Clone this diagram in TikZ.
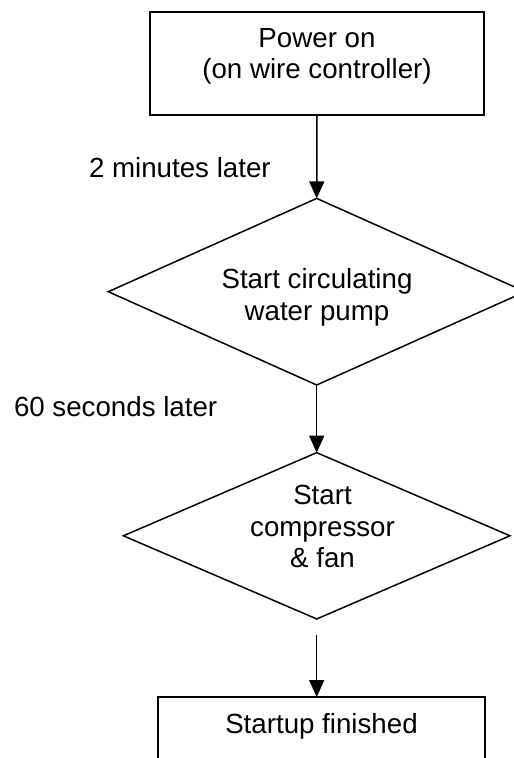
\documentclass[tikz,border=0pt]{standalone}
\usepackage{fontspec}
\setmainfont{Liberation Sans}
\usetikzlibrary{arrows.meta,shapes.geometric}

\begin{document}
\begin{tikzpicture}[
  x=1pt, y=-1pt,
  every node/.style={inner sep=0pt, outer sep=0pt},
  txt/.style={font=\fontsize{27.7}{31.5}\selectfont, align=center},
  stepbox/.style={draw, line width=1.5pt, rectangle},
  decision/.style={draw, line width=1.5pt, diamond, shape aspect=1},
  flow/.style={line width=1.5pt, -{Triangle[length=17pt,width=15pt]}}
]
  % canvas
  \useasboundingbox (0,0) rectangle (514,758);
  \clip (0,0) rectangle (514,758);

  % shapes
  \node[stepbox, minimum width=334pt, minimum height=103pt] (b1) at (317,63.5) {};
  \node[decision, minimum width=416.8pt, minimum height=186.6pt] (d1) at (316.7,291.7) {};
  \node[decision, minimum width=386.6pt, minimum height=166.3pt] (d2) at (316.7,535.8) {};
  \node[stepbox, minimum width=327pt, minimum height=103pt] (b2) at (321.5,748.5) {};

  % texts
  \node[txt, anchor=north] (t1) at (317,28.2) {Power on\\(on wire controller)};
  \node[txt, anchor=north] (t2) at (317,268.5) {Start circulating\\water pump};
  \node[txt, anchor=north] (t3) at (322.5,485.2) {Start\\compressor\\\& fan};
  \node[txt, anchor=base] (t4) at (321.5,733) {Startup finished};

  % timing labels
  \node[txt, anchor=base west] (l1) at (89,177) {2 minutes later};
  \node[txt, anchor=base west] (l2) at (14,416.7) {60 seconds later};

  % connectors
  \coordinate (c3) at (316.7,635);
  \draw[flow] (b1.south) -- (d1.north);
  \draw[flow] (d1.south) -- (d2.north);
  \draw[flow] (c3) -- (c3 |- b2.north);
\end{tikzpicture}
\end{document}
